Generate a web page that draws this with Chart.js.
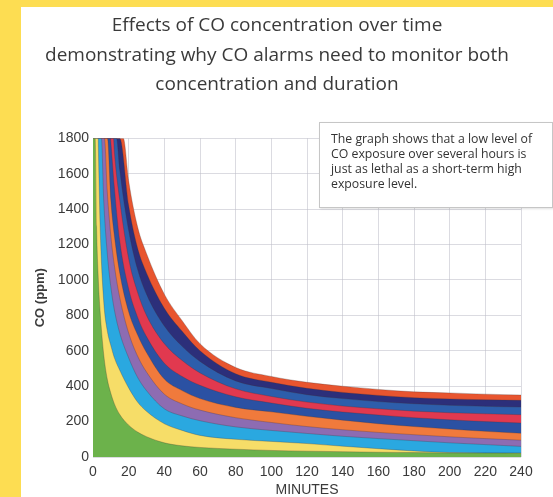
<!DOCTYPE html>
<html lang="en">
<head>
<meta charset="UTF-8">
<title>Effects of CO concentration over time</title>
<script src="https://cdn.jsdelivr.net/npm/chart.js"></script>
<style>
    html, body {
        margin: 0;
        padding: 0;
        width: 553px;
        height: 497px;
        overflow: hidden;
        background: #fddd52;
    }
    #panel {
        position: absolute;
        left: 21px;
        top: 7px;
        width: 532px;
        height: 490px;
        background: #fff;
    }
    #wrap {
        position: absolute;
        left: 0;
        top: 0;
        width: 532px;
        height: 490px;
    }
    #note {
        position: absolute;
        left: 298px;
        top: 115px;
        width: 221px;
        height: 76px;
        padding: 8px 0 0 11px;
        border: 1px solid #c6c6c6;
        box-shadow: 1px 1px 2px rgba(0,0,0,0.12);
        background: #fff;
        font-family: "Open Sans", sans-serif;
        font-size: 12.3px;
        line-height: 15px;
        color: #333;
        white-space: nowrap;
    }
</style>
</head>
<body>
<div id="panel">
    <div id="wrap"><canvas id="chart"></canvas></div>
    <div id="note">The graph shows that a low level of<br>CO exposure over several hours is<br>just as lethal as a short-term high<br>exposure level.</div>
</div>

<script>
    const minutes = [2, 3, 4, 6, 8, 10, 12, 15, 20, 25, 30, 40, 50, 60, 80, 100, 120, 140, 160, 180, 200, 220, 240];
    // minute at which each edge drops below the 1800 ppm top of the chart
    const leaveTop = [1.2, 2.9, 4.7, 6.4, 8.1, 9.8, 11.5, 13.2, 15, 17];

    // upper edge of each band, ppm (null = still above 1800)
    const greenTop  = [1300, 1000, 820, 580, 440, 360, 300, 240, 180, 141, 115, 80, 63, 54, 44, 37, 33, 30, 27, 25, 23, 22, 21];
    const yellowTop = [null, 1750, 1300, 880, 714, 630, 560, 490, 390, 310, 258, 188, 150, 122, 100, 88, 76, 61, 47, 34, 25, 23, 22];
    const skyTop    = [null, null, null, 1450, 1150, 960, 830, 700, 560, 450, 375, 272, 232, 205, 170, 150, 133, 117, 104, 92, 80, 70, 60];
    const purpleTop = [null, null, null, null, 1500, 1250, 1080, 900, 700, 570, 480, 355, 300, 265, 222, 195, 172, 154, 139, 126, 114, 104, 95];
    const orangeTop = [null, null, null, null, null, 1450, 1250, 1040, 820, 690, 590, 440, 375, 330, 280, 255, 230, 208, 188, 172, 158, 145, 134];
    const blueTop   = [null, null, null, null, null, 1780, 1520, 1220, 950, 790, 680, 530, 455, 405, 340, 305, 275, 254, 237, 222, 210, 200, 192];
    const redTop    = [null, null, null, null, null, null, 1720, 1450, 1120, 930, 800, 640, 545, 475, 385, 342, 310, 288, 272, 259, 250, 244, 239];
    const blue2Top  = [null, null, null, null, null, null, null, 1620, 1280, 1060, 920, 740, 625, 540, 430, 387, 352, 330, 313, 301, 292, 286, 282];
    const navyTop   = [null, null, null, null, null, null, null, null, 1420, 1180, 1040, 840, 710, 600, 470, 422, 388, 365, 348, 335, 328, 323, 320];
    const outerTop  = [null, null, null, null, null, null, null, null, 1560, 1300, 1150, 920, 770, 640, 506, 455, 422, 400, 382, 368, 362, 355, 350];

    const bands = [greenTop, yellowTop, skyTop, purpleTop, orangeTop, blueTop, redTop, blue2Top, navyTop, outerTop];
    const bandColors = ['#6cb24b', '#f6dd68', '#2aa8e0', '#8d6cb2', '#f07a3c', '#2b51a3', '#e1394f', '#2d5eab', '#2c2f7a', '#e8552f'];

    const xTicks = [0, 20, 40, 60, 80, 100, 120, 140, 160, 180, 200, 220, 240];
    const yTicks = [0, 200, 400, 600, 800, 1000, 1200, 1400, 1600, 1800];

    function edgePoints(values, i) {
        const pts = [{x: 0, y: 1800}, {x: leaveTop[i], y: 1800}];
        minutes.forEach((m, j) => {
            if (values[j] !== null && m > leaveTop[i]) pts.push({x: m, y: values[j]});
        });
        return pts;
    }

    // dataset 0 is drawn last, so the lowest band sits on top
    const datasets = bands.map((vals, i) => ({
        data: edgePoints(vals, i),
        backgroundColor: bandColors[i],
        borderColor: 'rgba(70,50,50,0.35)',
        borderWidth: 0.8,
        fill: 'origin',
        pointRadius: 0,
        cubicInterpolationMode: 'monotone'
    }));

    const tickFont = {family: '"Liberation Sans", Arial, sans-serif', size: 14};

    new Chart(document.getElementById('chart'), {
        type: 'line',
        data: {datasets: datasets},
        options: {
            responsive: true,
            maintainAspectRatio: false,
            animation: false,
            layout: {padding: {left: 12, right: 32, top: 0, bottom: 0}},
            plugins: {
                legend: {display: false},
                tooltip: {enabled: false},
                title: {
                    display: true,
                    text: ['Effects of CO concentration over time',
                           'demonstrating why CO alarms need to monitor both',
                           'concentration and duration'],
                    color: '#3a3a3a',
                    font: {family: '"Open Sans", sans-serif', size: 19, weight: 'normal', lineHeight: 1.55},
                    padding: {top: 4, bottom: 39}
                }
            },
            scales: {
                x: {
                    type: 'linear',
                    min: 0,
                    max: 240,
                    z: 1,
                    afterBuildTicks: (s) => { s.ticks = xTicks.map(v => ({value: v})); },
                    afterFit: (s) => { s.height = 40; },
                    grid: {color: 'rgba(190,190,200,0.55)', drawTicks: false},
                    border: {display: false},
                    ticks: {color: '#3a3a3a', font: tickFont, padding: 7, maxRotation: 0,
                            callback: (v) => String(v)},
                    title: {
                        display: true,
                        text: 'MINUTES',
                        color: '#3a3a3a',
                        font: {family: '"Liberation Sans", Arial, sans-serif', size: 14, lineHeight: 1},
                        padding: {top: 0, bottom: 0}
                    }
                },
                y: {
                    min: 0,
                    max: 1800,
                    z: 1,
                    afterBuildTicks: (s) => { s.ticks = yTicks.map(v => ({value: v})); },
                    afterFit: (s) => { s.width = 60; },
                    grid: {color: 'rgba(190,190,200,0.55)', drawTicks: false},
                    border: {display: false},
                    ticks: {color: '#3a3a3a', font: tickFont, padding: 4,
                            callback: (v) => String(v)},
                    title: {
                        display: true,
                        text: 'CO (ppm)',
                        color: '#3a3a3a',
                        font: {family: '"Liberation Sans", Arial, sans-serif', size: 13, weight: 'bold', lineHeight: 1.2},
                        padding: {top: 0, bottom: 0}
                    }
                }
            }
        }
    });
</script>
</body>
</html>
